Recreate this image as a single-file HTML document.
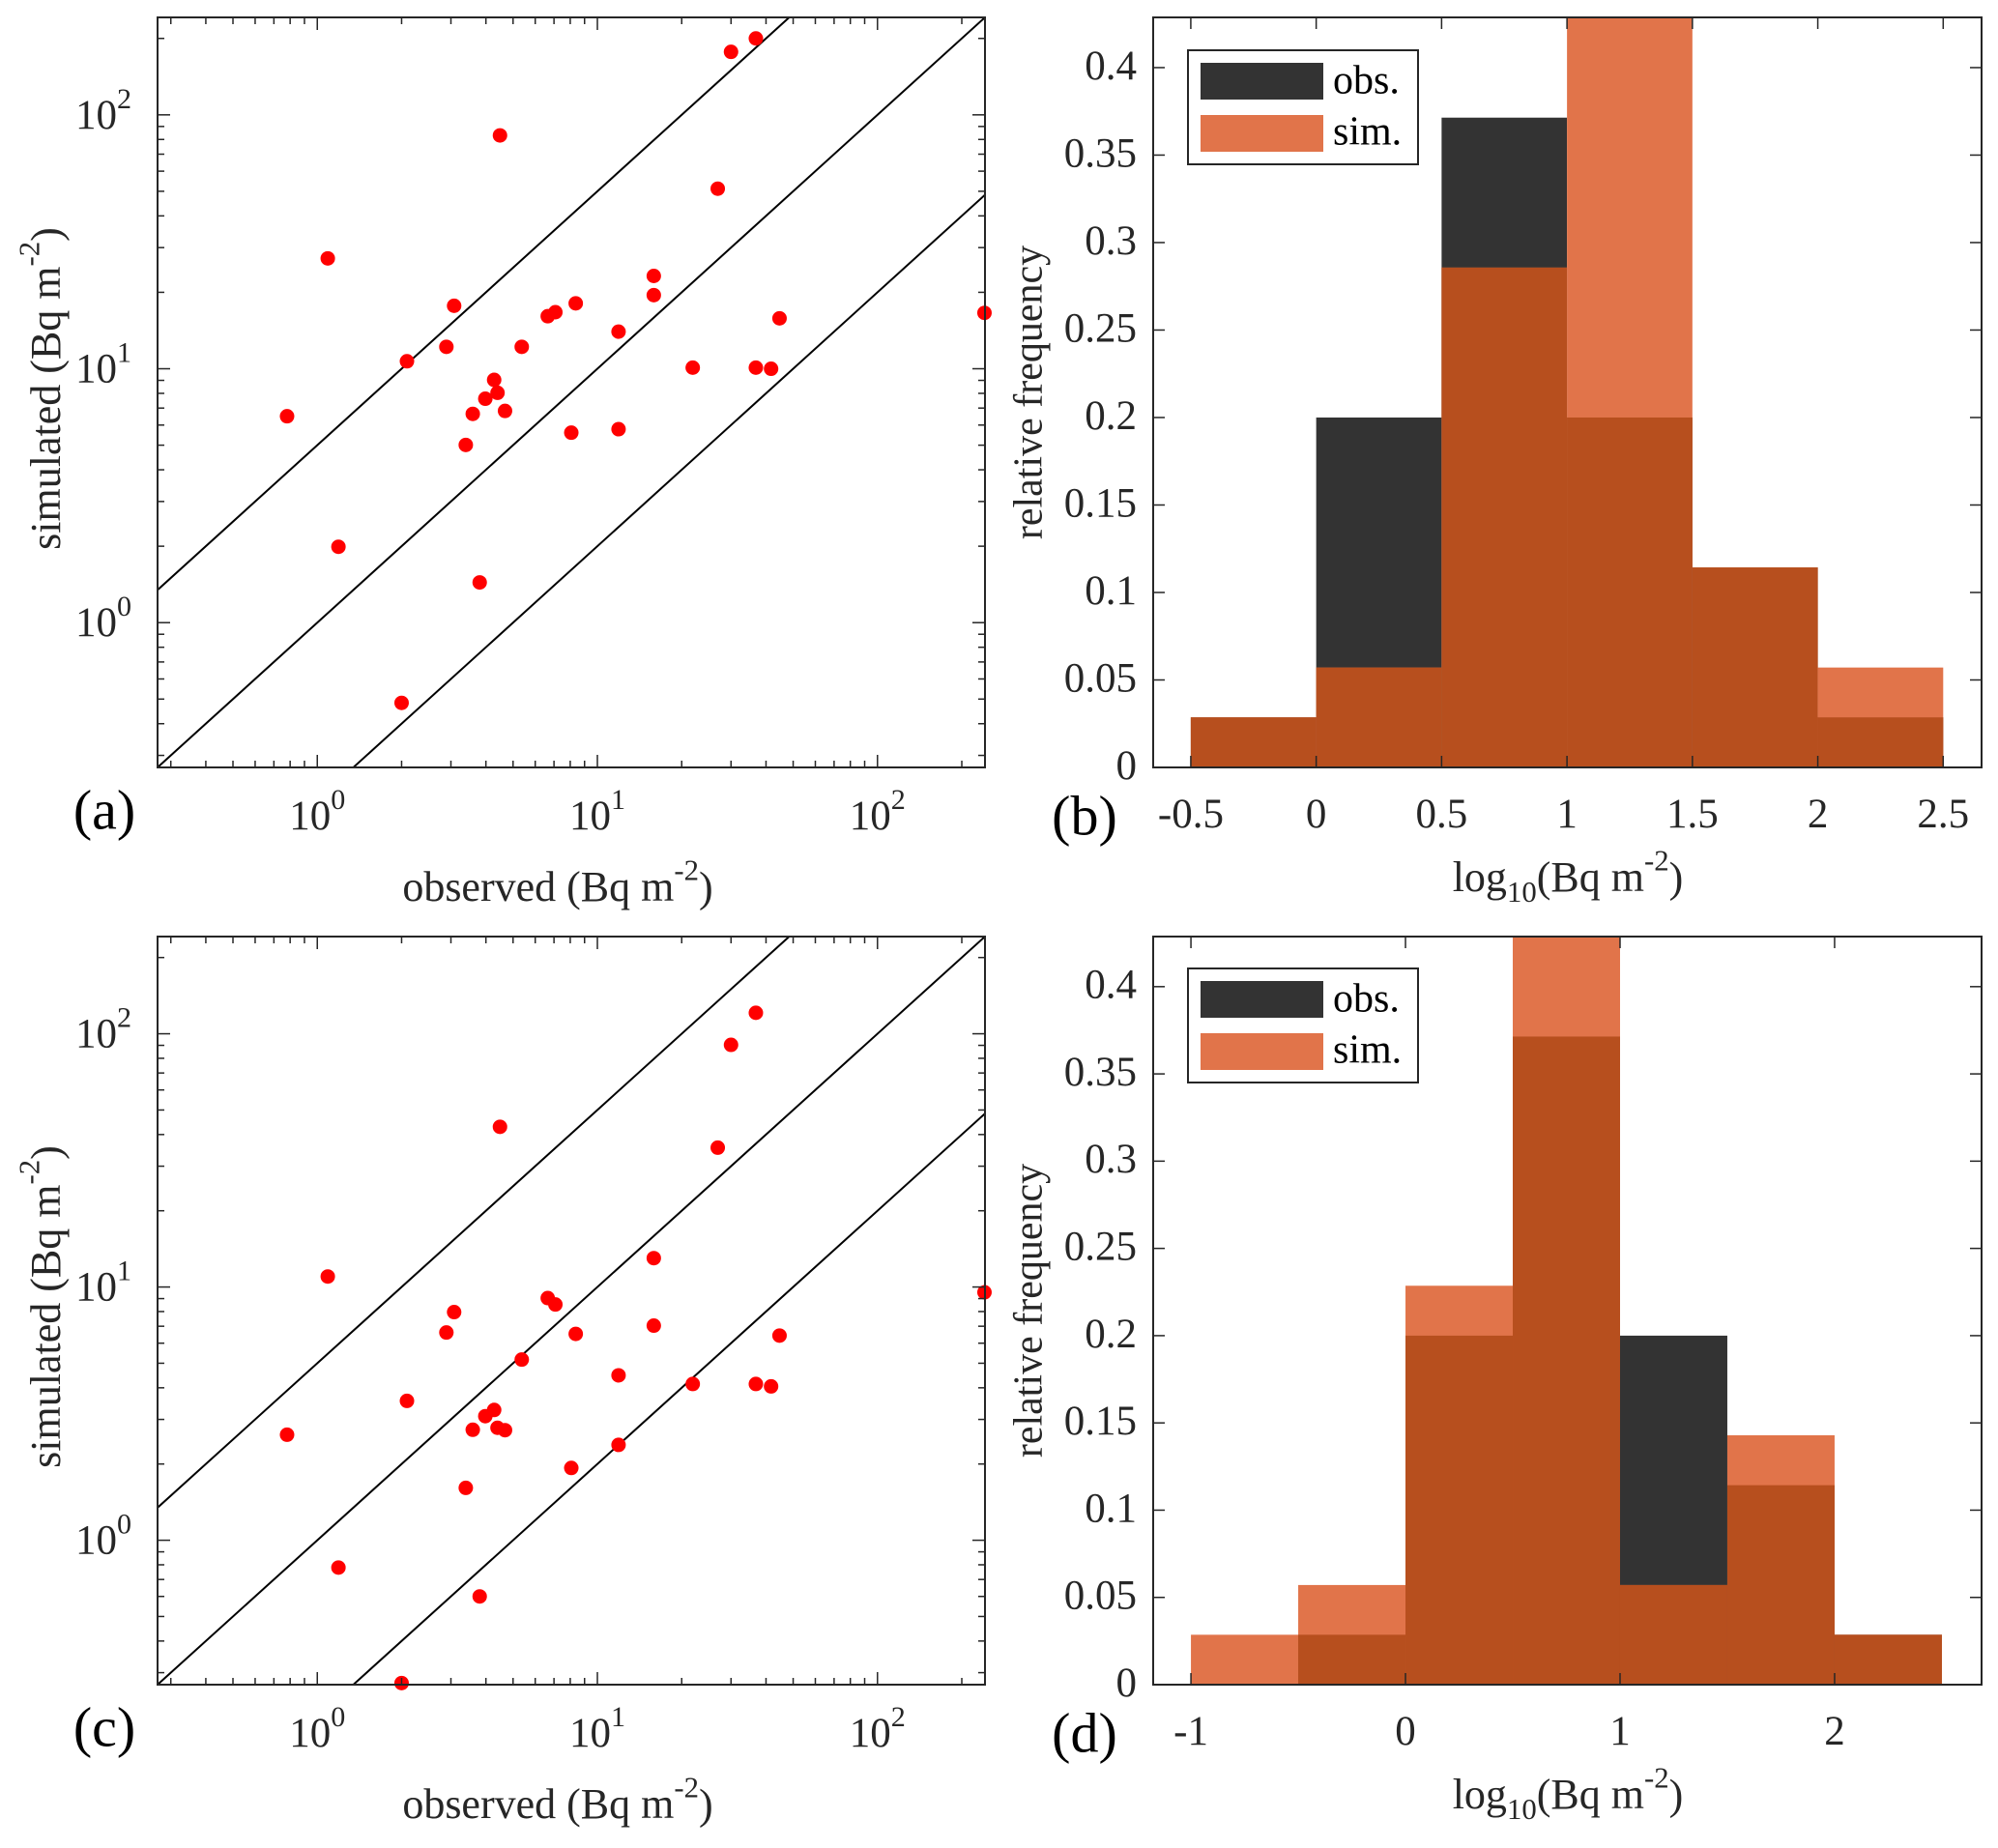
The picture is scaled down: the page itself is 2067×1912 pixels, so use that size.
<!DOCTYPE html>
<html><head><meta charset="utf-8">
<style>
html,body{margin:0;padding:0;background:#fff;overflow:hidden;}
svg{display:block;font-family:"Liberation Serif",serif;}
</style></head>
<body>
<svg id="fig" width="2067" height="1912" viewBox="0 0 2067 1912" xmlns="http://www.w3.org/2000/svg"></svg>
<script>
// ---- data ----
const observed = [0.78,1.09,1.19,2.09,2.00,2.89,3.08,3.39,3.59,3.80,3.98,4.28,4.40,4.49,4.68,5.37,6.65,7.08,8.07,8.37,11.9,11.9,15.9,15.9,21.9,26.9,30.0,36.8,36.8,41.7,44.7,241];
const simulatedA = [6.50,27.2,1.99,10.7,0.483,12.2,17.7,5.01,6.64,1.44,7.62,9.04,8.04,83.0,6.82,12.2,16.1,16.7,5.60,18.1,14.0,5.78,23.2,19.5,10.1,51.2,177,200,10.1,10.0,15.8,16.6];
const simulatedC = [2.61,11.0,0.78,3.55,0.273,6.61,7.96,1.61,2.73,0.60,3.09,3.27,2.78,42.9,2.72,5.17,9.04,8.53,1.93,6.53,4.48,2.38,13.0,7.04,4.14,35.5,90.4,121,4.14,4.05,6.43,9.53];
const ratioLines = [5, 1, 0.2];
const binEdgesB = [-0.5,0,0.5,1,1.5,2,2.5];
const obsFreqB = [0.0286,0.2,0.3714,0.2,0.1143,0.0286];
const simFreqB = [0.0286,0.0571,0.2857,0.4286,0.1143,0.0571];
const binEdgesD = [-1,-0.5,0,0.5,1,1.5,2,2.5];
const obsFreqD = [0,0.0286,0.2,0.3714,0.2,0.1143,0.0286];
const simFreqD = [0.0286,0.0571,0.2286,0.4286,0.0571,0.1429,0.0286];
const xTicksB = [-0.5,0,0.5,1,1.5,2,2.5];
const xTickLabelsB = ["-0.5","0","0.5","1","1.5","2","2.5"];
const xTicksD = [-1,0,1,2];
const xTickLabelsD = ["-1","0","1","2"];
const yTicksHist = [0,0.05,0.1,0.15,0.2,0.25,0.3,0.35,0.4];
const yTickLabelsHist = ["0","0.05","0.1","0.15","0.2","0.25","0.3","0.35","0.4"];
const logDecades = [0,1,2];

const NS="http://www.w3.org/2000/svg";
const svg=document.getElementById('fig');
function mk(tag,attrs,parent){const e=document.createElementNS(NS,tag);for(const k in attrs)e.setAttribute(k,attrs[k]);(parent||svg).appendChild(e);return e;}
const AX="#262626";

function supText(parent,x,y,parts,anchor,size,rot){
  const t=mk('text',{x:x,y:y,'font-size':size,'text-anchor':anchor||'middle',fill:AX,'dominant-baseline':'middle'},parent);
  if(rot)t.setAttribute('transform','rotate(-90 '+x+' '+y+')');
  parts.forEach(p=>{const s=mk('tspan',{},t);s.textContent=p[0];
    if(p[1]==='sup'){s.setAttribute('dy',-size*0.42);s.setAttribute('font-size',size*0.7);}
    else if(p[1]==='sub'){s.setAttribute('dy',size*0.32);s.setAttribute('font-size',size*0.7);}
    else if(p[1]==='back'){s.setAttribute('dy',p[2]);}
  });
  return t;
}

function scatterPanel(P,sim,name,letter){
  const g=mk('g',{});
  
  
  const lmin=Math.log10(0.269),lmax=Math.log10(242);
  const sx=v=>P.x0+(Math.log10(v)-lmin)/(lmax-lmin)*(P.x1-P.x0);
  const sy=v=>P.y1-(Math.log10(v)-lmin)/(lmax-lmin)*(P.y1-P.y0);
  const clip='clip-'+name;
  const cp=mk('clipPath',{id:clip},g);mk('rect',{x:P.x0,y:P.y0,width:P.x1-P.x0,height:P.y1-P.y0},cp);
  ratioLines.forEach(r=>{
    const l=mk('line',{x1:sx(0.01),y1:sy(0.01*r),x2:sx(1000),y2:sy(1000*r),stroke:'#000','stroke-width':2,'clip-path':'url(#'+clip+')'},g);
    
    
  });
  observed.forEach((o,i)=>{
    const c=mk('circle',{cx:sx(o),cy:sy(sim[i]),r:7.5,fill:'#ff0000'},g);
    
    
  });
  const box=mk('rect',{x:P.x0,y:P.y0,width:P.x1-P.x0,height:P.y1-P.y0,fill:'none',stroke:AX,'stroke-width':2},g);
  
  
  for(let d=-1;d<=2;d++){for(let k=1;k<=9;k++){const v=k*Math.pow(10,d);
    if(v<0.269||v>242)continue;const L=(k===1)?13:7;
    const X=sx(v),Y=sy(v);
    mk('line',{x1:X,y1:P.y1,x2:X,y2:P.y1-L,stroke:AX,'stroke-width':1.5},g);
    mk('line',{x1:X,y1:P.y0,x2:X,y2:P.y0+L,stroke:AX,'stroke-width':1.5},g);
    mk('line',{x1:P.x0,y1:Y,x2:P.x0+L,y2:Y,stroke:AX,'stroke-width':1.5},g);
    mk('line',{x1:P.x1,y1:Y,x2:P.x1-L,y2:Y,stroke:AX,'stroke-width':1.5},g);
  }}
  logDecades.forEach(d=>{
    const v=Math.pow(10,d);
    const tx=supText(g,sx(v),P.y1+54,[['10'],[String(d),'sup']],'middle',43);
    
    
    const ty=supText(g,P.x0-56,sy(v)+4,[['10'],[String(d),'sup']],'middle',43);
    
    
  });
  const xt=supText(g,(P.x0+P.x1)/2-14,P.y1+128,[['observed (Bq m'],['-2','sup'],[')','back',19]],'middle',44);
  
  
  const yt=supText(g,52,(P.y0+P.y1)/2-4,[['simulated (Bq m'],['-2','sup'],[')','back',19]],'middle',44,true);
  
  
  const lb=mk('text',{x:108,y:P.y1+50,'font-size':58,'text-anchor':'middle','dominant-baseline':'middle',fill:'#000'},g);
  lb.textContent='('+letter+')';
  
  
}

function histPanel(P,edges,obs,sim,xlim,xt,xtl,name,letter,leg){
  const g=mk('g',{});
  
  
  const ymax=0.4287;
  const sx=v=>P.x0+(v-xlim[0])/(xlim[1]-xlim[0])*(P.x1-P.x0);
  const sy=v=>P.y1-v/ymax*(P.y1-P.y0);
  for(let i=0;i<obs.length;i++){
    const xa=sx(edges[i]),xb=sx(edges[i+1]);
    const ro=mk('rect',{x:xa,y:sy(obs[i]),width:xb-xa,height:P.y1-sy(obs[i]),fill:'#333333'},g);
    
    
    const rs=mk('rect',{x:xa,y:sy(sim[i]),width:xb-xa,height:P.y1-sy(sim[i]),fill:'#e1744a'},g);
    
    
    const m=Math.min(obs[i],sim[i]);
    const ov=mk('rect',{x:xa,y:sy(m),width:xb-xa,height:P.y1-sy(m),fill:'#b74f1e'},g);
    
    
  }
  const box=mk('rect',{x:P.x0,y:P.y0,width:P.x1-P.x0,height:P.y1-P.y0,fill:'none',stroke:AX,'stroke-width':2},g);
  
  
  xt.forEach((v,i)=>{
    const X=sx(v);
    mk('line',{x1:X,y1:P.y1,x2:X,y2:P.y1-12,stroke:AX,'stroke-width':1.5},g);
    mk('line',{x1:X,y1:P.y0,x2:X,y2:P.y0+12,stroke:AX,'stroke-width':1.5},g);
    const t=mk('text',{x:X,y:P.y1+52,'font-size':43,'text-anchor':'middle','dominant-baseline':'middle',fill:AX},g);
    t.textContent=xtl[i];
    
    
  });
  yTicksHist.forEach((v,i)=>{
    const Y=sy(v);
    mk('line',{x1:P.x0,y1:Y,x2:P.x0+12,y2:Y,stroke:AX,'stroke-width':1.5},g);
    mk('line',{x1:P.x1,y1:Y,x2:P.x1-12,y2:Y,stroke:AX,'stroke-width':1.5},g);
    const t=mk('text',{x:P.x0-17,y:Y+2,'font-size':43,'text-anchor':'end','dominant-baseline':'middle',fill:AX},g);
    t.textContent=yTickLabelsHist[i];
    
    
  });
  const xtt=supText(g,1622,P.y1+118,[['log'],['10','sub'],['(Bq m','back',-44*0.32],['-2','sup'],[')','back',19]],'middle',44);
  
  
  const cy=(P.y0+P.y1)/2;
  const yt=mk('text',{x:1068,y:cy,'font-size':42,'text-anchor':'middle','dominant-baseline':'middle',fill:AX,transform:'rotate(-90 1068 '+cy+')'},g);
  yt.textContent='relative frequency';
  
  
  const lb=mk('text',{x:1122,y:P.y1+56,'font-size':58,'text-anchor':'middle','dominant-baseline':'middle',fill:'#000'},g);
  lb.textContent='('+letter+')';
  
  
  const lg=mk('g',{},g);
  
  
  mk('rect',{x:1229,y:leg,width:238,height:118,fill:'#fff',stroke:AX,'stroke-width':2},lg);
  const e1=mk('rect',{x:1242,y:leg+13,width:127,height:38,fill:'#333333'},lg);
  
  
  const e2=mk('rect',{x:1242,y:leg+67,width:127,height:38,fill:'#e1744a'},lg);
  
  
  const t1=mk('text',{x:1379,y:leg+35,'font-size':42,'dominant-baseline':'middle',fill:'#000'},lg);
  t1.textContent='obs.';
  
  
  const t2=mk('text',{x:1379,y:leg+88,'font-size':42,'dominant-baseline':'middle',fill:'#000'},lg);
  t2.textContent='sim.';
  
  
}

scatterPanel({x0:163,x1:1019,y0:18,y1:794},simulatedA,'scatter-panel-a','a');
scatterPanel({x0:163,x1:1019,y0:969,y1:1743},simulatedC,'scatter-panel-c','c');
histPanel({x0:1193,x1:2050,y0:18,y1:794},binEdgesB,obsFreqB,simFreqB,[-0.65,2.653],xTicksB,xTickLabelsB,'histogram-panel-b','b',52);
histPanel({x0:1193,x1:2050,y0:969,y1:1743},binEdgesD,obsFreqD,simFreqD,[-1.176,2.685],xTicksD,xTickLabelsD,'histogram-panel-d','d',1002);
</script>
</body></html>
